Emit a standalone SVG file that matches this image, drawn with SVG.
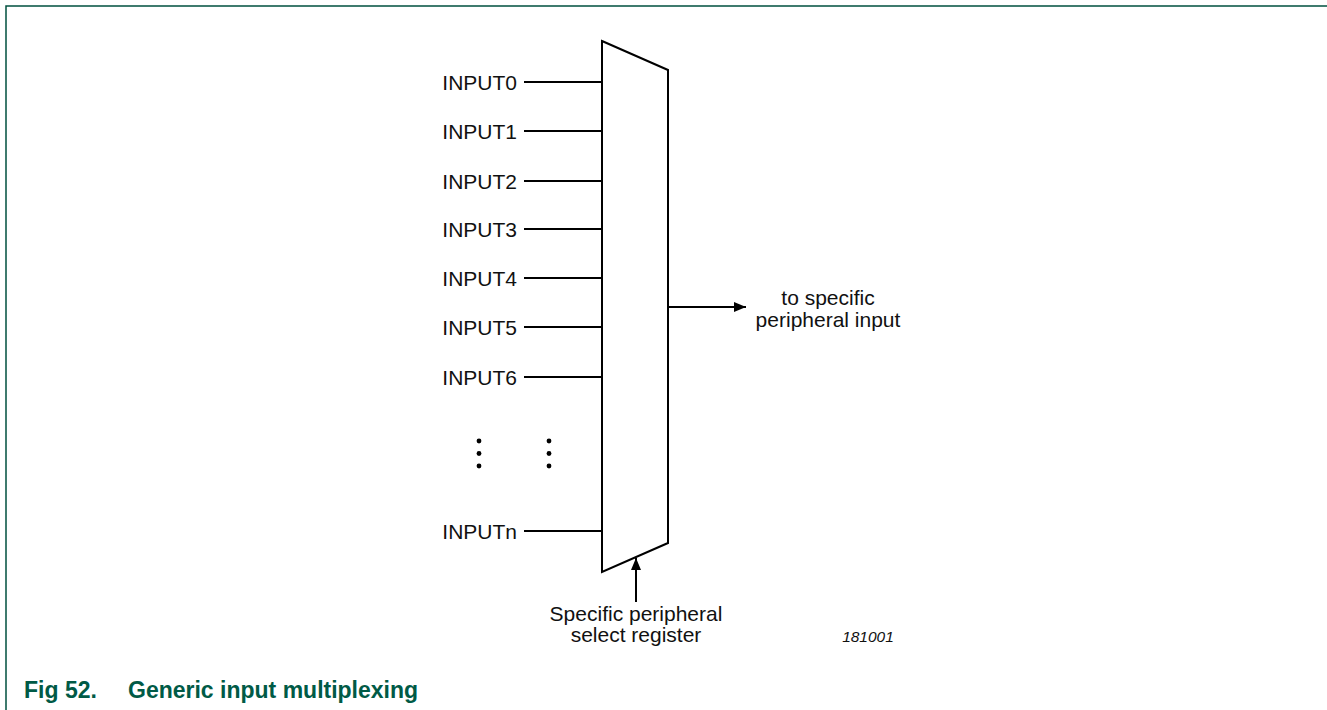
<svg xmlns="http://www.w3.org/2000/svg" width="1327" height="710" viewBox="0 0 1327 710">
<defs>
<style>
.t{font-family:"Liberation Sans",Arial,sans-serif;font-size:21px;fill:#111}
.w{stroke:#000;stroke-width:2;fill:none}
.d{fill:#000}
</style>
<marker id="ah" viewBox="0 0 12 10" refX="12" refY="5" markerWidth="12" markerHeight="10" markerUnits="userSpaceOnUse" orient="auto"><path d="M0,0 L12,5 L0,10 z" fill="#000"/></marker>
</defs>
<rect width="1327" height="710" fill="#fff"/>
<g id="frame"><path d="M6,710 V6 H1327" stroke="#00503f" stroke-width="1.5" fill="none"/></g>
<g id="mux"><polygon points="602,41 668,70 668,543 602,572" fill="#fff" stroke="#000" stroke-width="2"/></g>
<g id="inputs">
<text class="t" x="517" y="89.5" text-anchor="end">INPUT0</text>
<text class="t" x="517" y="138.5" text-anchor="end">INPUT1</text>
<text class="t" x="517" y="188.5" text-anchor="end">INPUT2</text>
<text class="t" x="517" y="236.5" text-anchor="end">INPUT3</text>
<text class="t" x="517" y="285.5" text-anchor="end">INPUT4</text>
<text class="t" x="517" y="334.5" text-anchor="end">INPUT5</text>
<text class="t" x="517" y="384.5" text-anchor="end">INPUT6</text>
<text class="t" x="517" y="538.5" text-anchor="end">INPUTn</text>
</g>
<g id="dots">
<circle class="d" cx="479" cy="441" r="2.4"/><circle class="d" cx="479" cy="453.5" r="2.4"/><circle class="d" cx="479" cy="466" r="2.4"/>
<circle class="d" cx="549" cy="441" r="2.4"/><circle class="d" cx="549" cy="453.5" r="2.4"/><circle class="d" cx="549" cy="466" r="2.4"/>
</g>
<g id="connectors">
<path class="w" d="M524,82 H602 M524,131 H602 M524,181 H602 M524,229 H602 M524,278 H602 M524,327 H602 M524,377 H602 M524,531 H602"/>
<line class="w" x1="668" y1="307" x2="746" y2="307" marker-end="url(#ah)"/>
<line class="w" x1="636" y1="602" x2="636" y2="558" marker-end="url(#ah)"/>
</g>
<g id="labels">
<text class="t" x="828" y="305" text-anchor="middle">to specific</text>
<text class="t" x="828" y="327" text-anchor="middle">peripheral input</text>
<text class="t" x="636" y="621" text-anchor="middle">Specific peripheral</text>
<text class="t" x="636" y="642" text-anchor="middle">select register</text>
<text x="868" y="642" text-anchor="middle" style="font-family:'Liberation Sans',Arial,sans-serif;font-size:15.5px;font-style:italic;fill:#111">181001</text>
</g>
<g id="caption"><text x="24" y="698" style="font-family:'Liberation Sans',Arial,sans-serif;font-size:23px;font-weight:bold;fill:#005a46">Fig 52.<tspan x="128">Generic input multiplexing</tspan></text></g>
</svg>
